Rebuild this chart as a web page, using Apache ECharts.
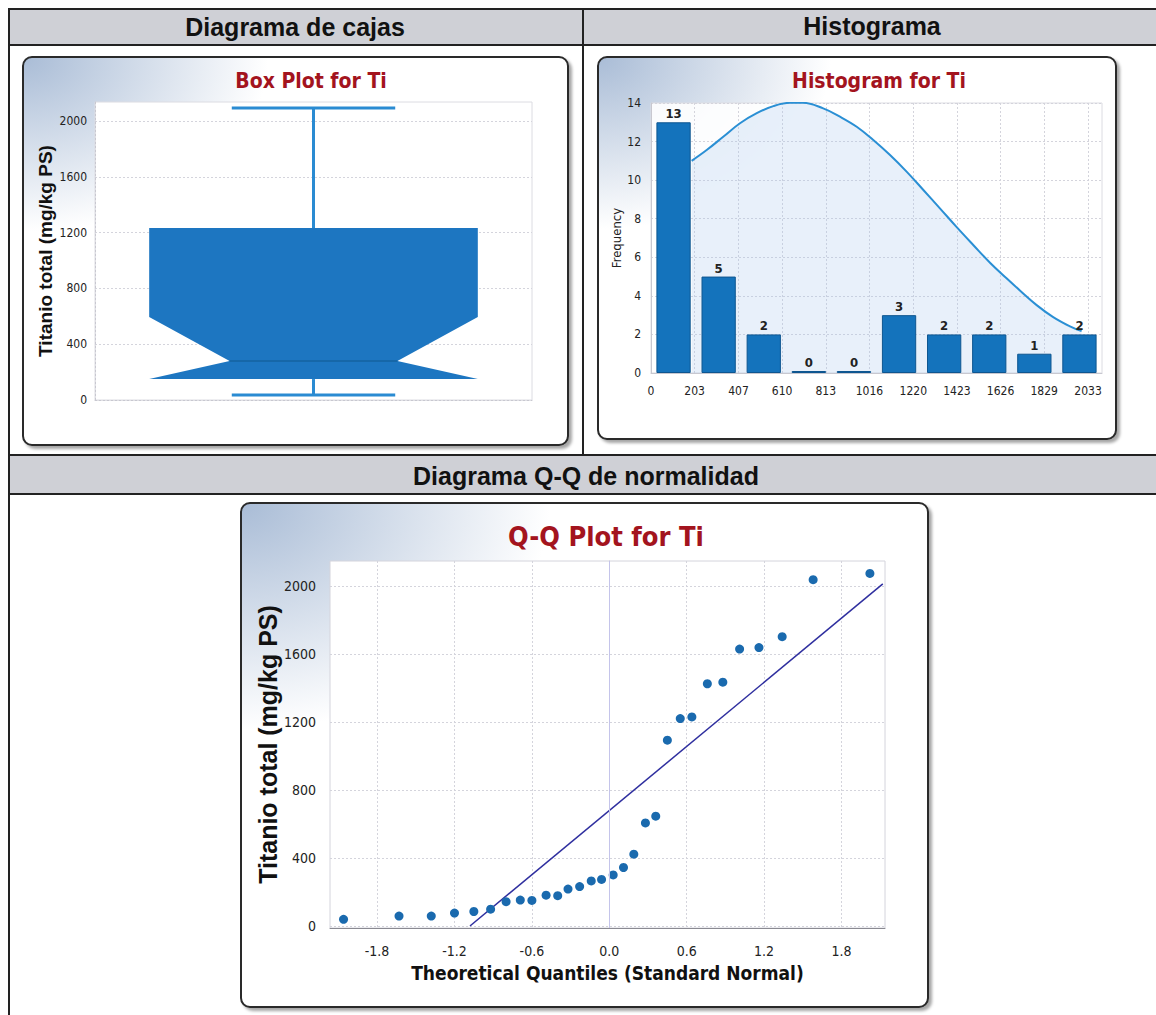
<!DOCTYPE html>
<html>
<head>
<meta charset="utf-8">
<title>Titanio total - diagramas</title>
<script src="https://cdn.jsdelivr.net/npm/echarts@6/dist/echarts.min.js"></script>
<style>
html, body { margin: 0; padding: 0; background: #fff; }
#main { width: 1156px; height: 1015px; }
</style>
</head>
<body>
<div id="main"></div>
<script>
// Diagrama de cajas: min, Q1, mediana, Q3, max (mg/kg PS)
var boxCategory = ['Ti'];
var boxStats = [36, 150, 280, 1233, 2093];
var boxNotch = [-35, 595];
var boxTicks = [0, 400, 800, 1200, 1600, 2000];

// Histograma
var histBins = ['1', '2', '3', '4', '5', '6', '7', '8', '9', '10'];
var histCounts = [13, 5, 2, 0, 0, 3, 2, 2, 1, 2];
var histTickLabels = ['0', '203', '407', '610', '813', '1016', '1220', '1423', '1626', '1829', '2033'];
var curveX = [189, 259, 336, 414, 492, 569, 647, 708, 801, 879, 957, 1034, 1112, 1189, 1267, 1344, 1420, 1499, 1577, 1654, 1716, 1794, 1871, 1949, 2003];
var curveY = [11.0, 11.56, 12.25, 12.95, 13.47, 13.84, 14.01, 14.01, 13.72, 13.29, 12.77, 12.08, 11.30, 10.44, 9.49, 8.54, 7.59, 6.64, 5.72, 4.91, 4.28, 3.52, 2.90, 2.42, 2.17];

// Diagrama Q-Q
var qqTheo = [-2.06, -1.63, -1.38, -1.20, -1.05, -0.92, -0.80, -0.69, -0.60, -0.49, -0.40, -0.32, -0.23, -0.14, -0.06,
              0.03, 0.11, 0.19, 0.28, 0.36, 0.45, 0.55, 0.64, 0.76, 0.88, 1.01, 1.16, 1.34, 1.58, 2.02];
var qqObs = [39, 58, 58, 76, 85, 99, 143, 152, 150, 181, 178, 217, 232, 265, 274,
             300, 344, 422, 606, 646, 1093, 1220, 1230, 1425, 1434, 1629, 1638, 1702, 2037, 2074];
var qqLineX = [-1.08, 2.12];
var qqLineY = [0, 2012];
var qqXTicks = [-1.8, -1.2, -0.6, 0, 0.6, 1.2, 1.8];
var qqYTicks = [0, 400, 800, 1200, 1600, 2000];

var NARROW = '"Liberation Sans Narrow", "DejaVu Sans Condensed", "Arial Narrow", sans-serif';
var ARIAL = '"Liberation Sans", Arial, sans-serif';
var RED = '#a3141e';
var GRIDLINE = { color: '#d4d4dc', type: [2, 2] };
var plain = function (v) { return String(v); };

var chart = echarts.init(document.getElementById('main'), null, { renderer: 'svg' });

function panel(x, y, w, h) {
  return {
    type: 'rect', z: -10,
    shape: { x: x, y: y, width: w, height: h, r: 9 },
    style: {
      fill: { type: 'radial', x: 0, y: 0, r: 0.45,
        colorStops: [{ offset: 0, color: '#a9bcd6' }, { offset: 1, color: '#ffffff' }] },
      stroke: '#2a2a2a', lineWidth: 2,
      shadowBlur: 3, shadowOffsetX: 3, shadowOffsetY: 3, shadowColor: 'rgba(0,0,0,0.35)'
    }
  };
}

function label(text, x, y, size, color, family) {
  return {
    type: 'text', z: -4, x: x, y: y,
    style: { text: text, fill: color, font: 'bold ' + size + 'px ' + family,
      textAlign: 'center', textVerticalAlign: 'middle' }
  };
}

function renderBox(params, api) {
  var c = api.value(0);
  var x = api.coord([c, 0])[0];
  var band = api.size([1, 0])[0];
  var half = band * 0.376, capHalf = band * 0.187, notchHalf = band * 0.192;
  function y(v) { return api.coord([c, v])[1]; }
  var yMin = y(api.value(1)), yQ1 = y(api.value(2)), yMed = y(api.value(3));
  var yQ3 = y(api.value(4)), yMax = y(api.value(5));
  var yNLo = y(Math.max(api.value(6), api.value(2))), yNHi = y(api.value(7));
  var wStyle = { stroke: '#2a8bd2', lineWidth: 3 };
  return {
    type: 'group',
    children: [
      { type: 'line', shape: { x1: x, y1: yQ3, x2: x, y2: yMax }, style: wStyle },
      { type: 'line', shape: { x1: x - capHalf, y1: yMax, x2: x + capHalf, y2: yMax }, style: wStyle },
      { type: 'line', shape: { x1: x, y1: yQ1, x2: x, y2: yMin }, style: wStyle },
      { type: 'line', shape: { x1: x - capHalf, y1: yMin, x2: x + capHalf, y2: yMin }, style: wStyle },
      { type: 'polygon', shape: { points: [
          [x - half, yQ3], [x + half, yQ3], [x + half, yNHi], [x + notchHalf, yMed],
          [x + half, yNLo], [x - half, yNLo], [x - notchHalf, yMed], [x - half, yNHi]] },
        style: { fill: '#1d76c1' } },
      { type: 'line', shape: { x1: x - notchHalf, y1: yMed, x2: x + notchHalf, y2: yMed },
        style: { stroke: '#1667a8', lineWidth: 2 } }
    ]
  };
}

var option = {
  backgroundColor: '#ffffff',
  animation: false,
  graphic: [
    // tabla
    { type: 'rect', z: -20, shape: { x: 9, y: 9, width: 1160, height: 36 },
      style: { fill: '#cfd0d6', stroke: '#222', lineWidth: 2 } },
    { type: 'rect', z: -20, shape: { x: 9, y: 455, width: 1160, height: 39 },
      style: { fill: '#cfd0d6', stroke: '#222', lineWidth: 2 } },
    { type: 'line', z: -20, shape: { x1: 9, y1: 9, x2: 9, y2: 1015 }, style: { stroke: '#222', lineWidth: 2 } },
    { type: 'line', z: -20, shape: { x1: 583, y1: 9, x2: 583, y2: 455 }, style: { stroke: '#222', lineWidth: 2 } },
    label('Diagrama de cajas', 295, 27, 25, '#111', ARIAL),
    label('Histograma', 872, 26, 25, '#111', ARIAL),
    label('Diagrama Q-Q de normalidad', 586, 476, 25, '#111', ARIAL),
    // paneles
    panel(23, 57, 545, 388),
    panel(598, 57, 518, 382),
    panel(241, 503, 687, 504),
    label('Box Plot for Ti', 311, 81, 21, RED, NARROW),
    label('Histogram for Ti', 879, 81, 21, RED, NARROW),
    label('Q-Q Plot for Ti', 606, 536, 27, RED, NARROW)
  ],
  grid: [
    { left: 95, top: 102, width: 437, height: 298, show: true, borderColor: '#dcdce2', borderWidth: 1, backgroundColor: '#fff' },
    { left: 651, top: 103, width: 451, height: 270, show: true, borderColor: '#dcdce2', borderWidth: 1, backgroundColor: 'rgba(255,255,255,0.9)' },
    { left: 330, top: 561, width: 555, height: 367, show: true, borderColor: '#d4d4dc', borderWidth: 1, backgroundColor: '#fff' }
  ],
  xAxis: [
    { gridIndex: 0, type: 'category', data: boxCategory,
      axisLine: { show: true, lineStyle: { color: '#c8c8d0', type: [2, 2] } },
      axisTick: { show: false }, axisLabel: { show: false }, splitLine: { show: false } },
    { gridIndex: 1, type: 'category', data: histBins, position: 'bottom',
      axisLine: { show: false }, axisTick: { show: false }, axisLabel: { show: false }, splitLine: { show: false } },
    { gridIndex: 1, type: 'value', position: 'bottom', min: 0, max: 2098,
      axisLine: { show: true, onZero: false, lineStyle: { color: '#c8c8d0' } },
      axisTick: { show: false, customValues: histTickLabels.map(Number) },
      axisLabel: { customValues: histTickLabels.map(Number), margin: 12, formatter: plain,
        color: '#222', fontSize: 12, fontFamily: NARROW },
      splitLine: { show: true, lineStyle: GRIDLINE } },
    { gridIndex: 2, type: 'value', min: -2.165, max: 2.137,
      name: 'Theoretical Quantiles (Standard Normal)', nameLocation: 'middle', nameGap: 35,
      nameTextStyle: { color: '#111', fontSize: 19, fontWeight: 'bold', fontFamily: NARROW },
      axisLine: { show: true, onZero: false, lineStyle: { color: '#8a8a92' } },
      axisTick: { show: false, customValues: qqXTicks },
      axisLabel: { customValues: qqXTicks, margin: 16, color: '#222', fontSize: 14, fontFamily: NARROW,
        formatter: function (v) { return v.toFixed(1); } },
      splitLine: { show: true, lineStyle: GRIDLINE } }
  ],
  yAxis: [
    { gridIndex: 0, type: 'value', min: 0, max: 2136,
      name: 'Titanio total (mg/kg PS)', nameLocation: 'middle', nameGap: 40,
      nameTextStyle: { color: '#111', fontSize: 19, fontWeight: 'bold', fontFamily: ARIAL },
      axisLine: { show: true, lineStyle: { color: '#c8c8d0', type: [2, 2] } },
      axisTick: { show: false, customValues: boxTicks },
      axisLabel: { customValues: boxTicks, margin: 8, formatter: plain, color: '#222', fontSize: 12, fontFamily: NARROW },
      splitLine: { show: true, lineStyle: GRIDLINE } },
    { gridIndex: 1, type: 'value', min: 0, max: 14, interval: 2,
      name: 'Frequency', nameLocation: 'middle', nameGap: 27,
      nameTextStyle: { color: '#222', fontSize: 13, fontFamily: NARROW },
      axisLine: { show: true, lineStyle: { color: '#c8c8d0' } },
      axisTick: { show: false },
      axisLabel: { margin: 10, color: '#222', fontSize: 12, fontFamily: NARROW },
      splitLine: { show: true, lineStyle: GRIDLINE } },
    { gridIndex: 2, type: 'value', min: -12, max: 2147,
      name: 'Titanio total (mg/kg PS)', nameLocation: 'middle', nameGap: 48,
      nameTextStyle: { color: '#111', fontSize: 25, fontWeight: 'bold', fontFamily: ARIAL },
      axisLine: { show: true, lineStyle: { color: '#c8c8d0' } },
      axisTick: { show: false, customValues: qqYTicks },
      axisLabel: { customValues: qqYTicks, margin: 14, formatter: plain, color: '#222', fontSize: 14, fontFamily: NARROW },
      splitLine: { show: true, lineStyle: GRIDLINE } }
  ],
  series: [
    {
      name: 'Box Plot for Ti', type: 'custom', xAxisIndex: 0, yAxisIndex: 0, z: 3,
      renderItem: renderBox,
      data: [[0].concat(boxStats, boxNotch)]
    },
    {
      name: 'Normal', type: 'line', xAxisIndex: 2, yAxisIndex: 1, z: 1,
      smooth: 0.4, symbol: 'none',
      lineStyle: { color: '#2a8fd4', width: 2 },
      areaStyle: { color: 'rgba(170,198,235,0.38)' },
      data: curveX.map(function (v, i) { return [v, curveY[i]]; })
    },
    {
      name: 'Frequency', type: 'bar', xAxisIndex: 1, yAxisIndex: 1, z: 3,
      barWidth: '76%', barMinHeight: 2,
      itemStyle: { color: '#1473bc', borderColor: '#0e5690', borderWidth: 1 },
      label: { show: true, position: 'top', distance: 2, color: '#222', fontSize: 13,
        fontWeight: 'bold', fontFamily: NARROW },
      data: histCounts
    },
    {
      name: 'Q-Q', type: 'scatter', xAxisIndex: 3, yAxisIndex: 2, z: 4,
      symbolSize: 9,
      itemStyle: { color: '#1a6aae', opacity: 1 },
      data: qqTheo.map(function (v, i) { return [v, qqObs[i]]; }),
      markLine: { silent: true, symbol: 'none', label: { show: false },
        lineStyle: { color: '#c4c4ea', type: 'solid', width: 1 },
        data: [{ xAxis: 0 }] }
    },
    {
      name: 'Referencia', type: 'line', xAxisIndex: 3, yAxisIndex: 2, z: 3,
      symbol: 'none',
      lineStyle: { color: '#2f2f9f', width: 1.5 },
      data: qqLineX.map(function (v, i) { return [v, qqLineY[i]]; })
    }
  ]
};

chart.setOption(option);
</script>
</body>
</html>
